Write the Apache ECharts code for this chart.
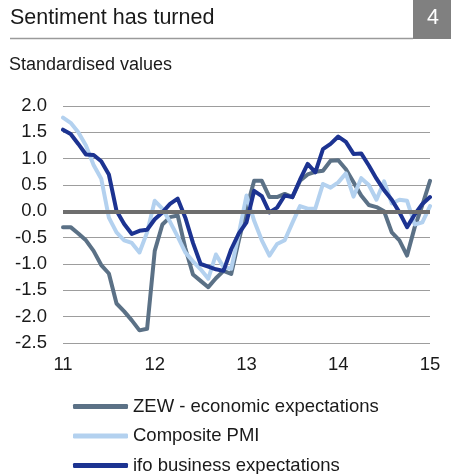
<!DOCTYPE html>
<html>
<head>
<meta charset="utf-8">
<script src="https://cdn.jsdelivr.net/npm/echarts@6/dist/echarts.min.js"></script>
<style>
  html, body { margin: 0; padding: 0; background: #fff; }
  #chart { width: 451px; height: 474px; }
</style>
</head>
<body>
<div id="chart"></div>
<script>
// Monthly readings, Jan 2011 .. Jan 2015 (49 months), standardised
const yearTicks = ['11', '12', '13', '14', '15'];

const zew = [-0.30, -0.30, -0.42, -0.55, -0.75, -1.02, -1.18, -1.75, -1.90, -2.07,
  -2.26, -2.23, -0.75, -0.25, -0.11, -0.08, -0.70, -1.20, -1.32, -1.44,
  -1.27, -1.13, -1.19, -0.55, 0.05, 0.58, 0.58, 0.27, 0.27, 0.33,
  0.27, 0.58, 0.70, 0.75, 0.77, 0.96, 0.97, 0.80, 0.55, 0.30,
  0.12, 0.08, 0.00, -0.40, -0.55, -0.84, -0.30, 0.12, 0.58];

const pmi = [1.78, 1.68, 1.50, 1.25, 0.88, 0.62, -0.12, -0.40, -0.55, -0.60,
  -0.78, -0.40, 0.20, 0.05, -0.20, -0.48, -0.78, -0.95, -1.10, -1.28,
  -0.82, -1.06, -1.09, -0.42, 0.30, -0.18, -0.55, -0.84, -0.62, -0.55,
  -0.22, 0.10, 0.05, 0.05, 0.52, 0.45, 0.55, 0.72, 0.28, 0.63,
  0.50, 0.22, 0.57, 0.15, 0.22, 0.20, -0.25, -0.21, 0.10];

const ifo = [1.55, 1.47, 1.28, 1.08, 1.07, 0.95, 0.70, 0.01, -0.24, -0.43,
  -0.37, -0.35, -0.15, -0.02, 0.14, 0.24, -0.12, -0.60, -1.00, -1.05,
  -1.10, -1.13, -0.72, -0.42, -0.21, 0.39, 0.29, -0.02, 0.07, 0.30,
  0.27, 0.60, 0.90, 0.74, 1.18, 1.28, 1.42, 1.32, 1.09, 1.10,
  0.87, 0.62, 0.40, 0.22, -0.02, -0.30, -0.06, 0.14, 0.27];

const seriesNames = ['ZEW - economic expectations', 'Composite PMI', 'ifo business expectations'];
const seriesColors = ['#5b7186', '#b3d1ef', '#1c3391'];

const toPoints = arr => arr.map((v, i) => [i, v]);

const FONT = 'Arial, "Liberation Sans", sans-serif';

const chart = echarts.init(document.getElementById('chart'), null, { renderer: 'canvas' });

function lineSeries(name, data, color, extra) {
  return Object.assign({
    name: name,
    type: 'line',
    data: toPoints(data),
    symbol: 'none',
    smooth: false,
    color: color,
    lineStyle: { width: 4, color: color, cap: 'round', join: 'round' },
    emphasis: { disabled: true },
    silent: true,
    animation: false
  }, extra || {});
}

chart.setOption({
  animation: false,
  textStyle: { fontFamily: FONT },
  grid: { left: 63, right: 21, top: 106, bottom: 131, containLabel: false },
  graphic: [
    { type: 'rect', shape: { x: 413, y: 0, width: 38, height: 39 }, style: { fill: '#808080' } },
    { type: 'line', shape: { x1: 10, y1: 38.5, x2: 413, y2: 38.5 }, style: { stroke: '#9a9a9a', lineWidth: 1.5 } },
    { type: 'text', x: 10, y: 18, style: { text: 'Sentiment has turned', font: '21.5px ' + FONT, fill: '#1a1a1a', verticalAlign: 'middle' } },
    { type: 'text', x: 433, y: 18, style: { text: '4', font: '21.5px ' + FONT, fill: '#ffffff', align: 'center', verticalAlign: 'middle' } },
    { type: 'text', x: 9, y: 65, style: { text: 'Standardised values', font: '18px ' + FONT, fill: '#1a1a1a', verticalAlign: 'middle' } }
  ],
  legend: {
    orient: 'vertical',
    left: 73,
    top: 397,
    height: 90,
    padding: 0,
    itemWidth: 55,
    itemHeight: 5,
    itemGap: 10.5,
    icon: 'roundRect',
    selectedMode: false,
    data: seriesNames,
    textStyle: { fontSize: 18.5, color: '#1a1a1a', fontFamily: FONT, lineHeight: 18 }
  },
  xAxis: {
    type: 'value',
    min: 0,
    max: 48,
    interval: 12,
    axisLine: { show: false },
    axisTick: { show: false },
    splitLine: { show: false },
    axisLabel: {
      margin: 12,
      fontSize: 18.5,
      color: '#1a1a1a',
      fontFamily: FONT,
      formatter: v => yearTicks[Math.round(v / 12)]
    }
  },
  yAxis: {
    type: 'value',
    min: -2.5,
    max: 2.0,
    interval: 0.5,
    axisLine: { show: false },
    axisTick: { show: false },
    splitLine: { show: true, lineStyle: { color: '#9d9d9d', width: 1 } },
    axisLabel: {
      margin: 16,
      fontSize: 18.5,
      color: '#1a1a1a',
      fontFamily: FONT,
      formatter: v => v.toFixed(1)
    }
  },
  series: [
    {
      type: 'line',
      data: [],
      silent: true,
      z: 1,
      markLine: {
        silent: true,
        symbol: 'none',
        label: { show: false },
        lineStyle: { color: '#6e6e6e', width: 4, type: 'solid' },
        data: [{ yAxis: 0 }],
        animation: false
      }
    },
    lineSeries(seriesNames[0], zew, seriesColors[0], { z: 2 }),
    lineSeries(seriesNames[1], pmi, seriesColors[1], { z: 3 }),
    lineSeries(seriesNames[2], ifo, seriesColors[2], { z: 4 })
  ]
});
</script>
</body>
</html>
